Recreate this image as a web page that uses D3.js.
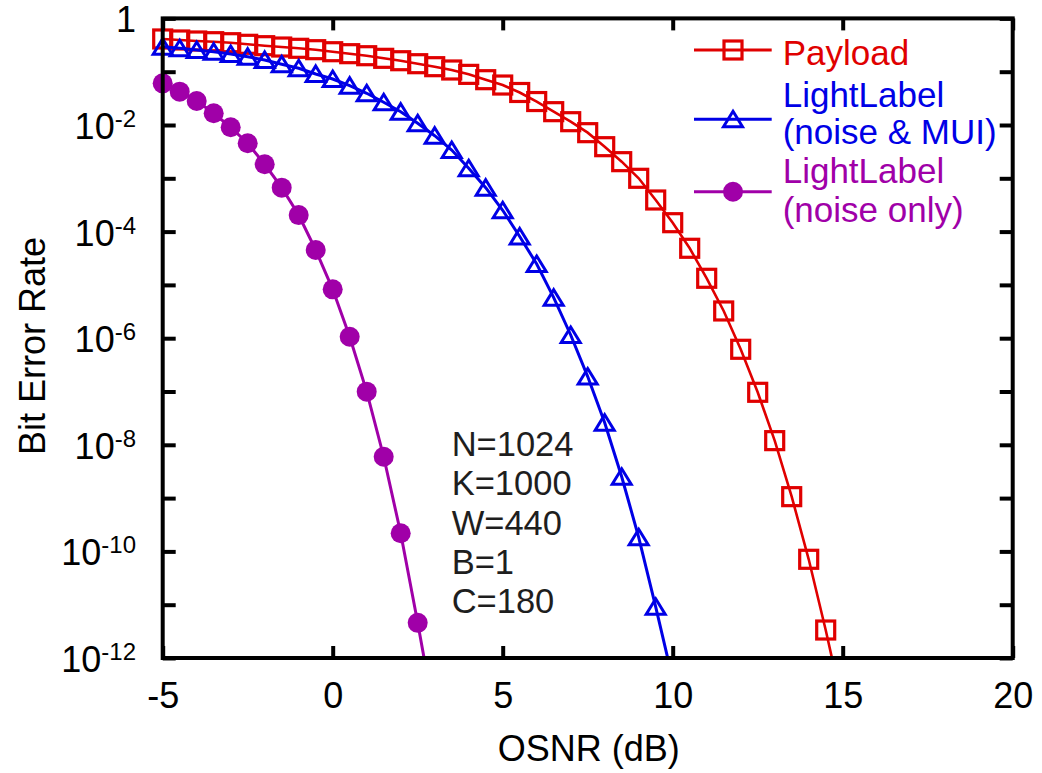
<html>
<head>
<meta charset="utf-8">
<script src="https://d3js.org/d3.v7.min.js"></script>
<style>
body { margin: 0; background: #fff; }
svg { font-family: "Liberation Sans", Arial, sans-serif; }
</style>
</head>
<body>
<svg width="1042" height="773"></svg>
<script>

// OSNR (dB) values and log10(BER).
// the last value of each series is just past the bottom so the line runs out of the frame
var payloadX = [-5, -4.5, -4, -3.5, -3, -2.5, -2, -1.5, -1, -0.5, 0, 0.5, 1, 1.5, 2, 2.5, 3, 3.5, 4, 4.5,
                5, 5.5, 6, 6.5, 7, 7.5, 8, 8.5, 9, 9.5, 10, 10.5, 11, 11.5, 12, 12.5, 13, 13.5, 14, 14.5, 15];
var payloadLog = [-0.386, -0.405, -0.424, -0.437, -0.456, -0.486, -0.512, -0.537, -0.561, -0.587,
                  -0.625, -0.662, -0.700, -0.749, -0.794, -0.850, -0.906, -0.968, -1.05, -1.15,
                  -1.25, -1.39, -1.56, -1.75, -1.938, -2.144, -2.407, -2.688, -3.0, -3.407,
                  -3.833, -4.313, -4.876, -5.489, -6.208, -7.015, -7.922, -8.973, -10.148, -11.475, -12.9];

var muiX = [-5, -4.5, -4, -3.5, -3, -2.5, -2, -1.5, -1, -0.5, 0, 0.5, 1, 1.5, 2, 2.5, 3, 3.5, 4, 4.5,
            5, 5.5, 6, 6.5, 7, 7.5, 8, 8.5, 9, 9.5, 10];
var muiLog = [-0.531, -0.561, -0.593, -0.625, -0.668, -0.719, -0.780, -0.861, -0.936, -1.043,
              -1.137, -1.263, -1.405, -1.574, -1.750, -1.968, -2.201, -2.469, -2.812, -3.176,
              -3.60, -4.091, -4.608, -5.24, -5.94, -6.72, -7.585, -8.6, -9.735, -11.04, -12.4];

var noiseX = [-5, -4.5, -4, -3.5, -3, -2.5, -2, -1.5, -1, -0.5, 0, 0.5, 1, 1.5, 2, 2.5, 3];
var noiseLog = [-1.218, -1.375, -1.55, -1.78, -2.043, -2.343, -2.737, -3.176, -3.69, -4.345,
                -5.083, -5.972, -7.003, -8.224, -9.66, -11.34, -13.1];

var xTicks = [-5, 0, 5, 10, 15, 20];
var yTicks = [1, 1e-1, 1e-2, 1e-3, 1e-4, 1e-5, 1e-6, 1e-7, 1e-8, 1e-9, 1e-10, 1e-11, 1e-12];
var yLabelExp = [0, -2, -4, -6, -8, -10, -12];
var noteLines = ["N=1024", "K=1000", "W=440", "B=1", "C=180"];
var legendNames = [["Payload"], ["LightLabel", "(noise & MUI)"], ["LightLabel", "(noise only)"]];

var red = "#e00000", blue = "#0000e6", purple = "#a000a8";

var svg = d3.select("svg");
var plotL = 162.7, plotR = 1012.7, plotT = 18.4, plotB = 658;

var x = d3.scaleLinear().domain([-5, 20]).range([plotL, plotR]);
var y = d3.scaleLog().domain([1e-12, 1]).range([plotB, plotT]);

svg.append("clipPath").attr("id", "plot")
  .append("rect").attr("x", plotL).attr("y", plotT).attr("width", plotR - plotL).attr("height", plotB - plotT);

function pts(xs, logs) {
  return xs.map(function (v, i) { return { x: v, ber: Math.pow(10, logs[i]) }; });
}
var series = [
  { data: pts(payloadX, payloadLog), color: red, width: 2.6, marker: "square" },
  { data: pts(muiX, muiLog), color: blue, width: 3, marker: "triangle" },
  { data: pts(noiseX, noiseLog), color: purple, width: 3, marker: "circle" }
];

var line = d3.line()
  .x(function (d) { return x(d.x); })
  .y(function (d) { return y(d.ber); });

function drawMarker(g, type, color, cx, cy) {
  if (type == "square") {
    g.append("rect").attr("x", cx - 9).attr("y", cy - 9).attr("width", 18).attr("height", 18)
      .attr("fill", "none").attr("stroke", color).attr("stroke-width", 3.2);
  } else if (type == "triangle") {
    g.append("path").attr("d", "M" + cx + "," + (cy - 8) + "L" + (cx + 9.5) + "," + (cy + 7.5) + "L" + (cx - 9.5) + "," + (cy + 7.5) + "Z")
      .attr("fill", "none").attr("stroke", color).attr("stroke-width", 3);
  } else {
    g.append("circle").attr("cx", cx).attr("cy", cy).attr("r", 10).attr("fill", color);
  }
}

series.forEach(function (s) {
  svg.append("path")
    .attr("d", line(s.data))
    .attr("fill", "none")
    .attr("stroke", s.color)
    .attr("stroke-width", s.width)
    .attr("clip-path", "url(#plot)");
  var g = svg.append("g");
  s.data.forEach(function (d) {
    if (d.ber >= 1e-12) drawMarker(g, s.marker, s.color, x(d.x), y(d.ber));
  });
});

// frame and ticks (inside)
svg.append("rect")
  .attr("x", plotL).attr("y", plotT).attr("width", plotR - plotL).attr("height", plotB - plotT)
  .attr("fill", "none").attr("stroke", "#000").attr("stroke-width", 4);

function styleTicks(g) {
  g.select(".domain").remove();
  g.selectAll(".tick line").attr("stroke", "#000").attr("stroke-width", 4);
}

var xAxis = d3.axisBottom(x).tickValues(xTicks).tickSize(-12).tickSizeOuter(0).tickPadding(24.4)
  .tickFormat(function (d) { return String(d); });
svg.append("g").attr("transform", "translate(0," + plotB + ")").call(xAxis)
  .call(styleTicks)
  .selectAll("text").attr("font-size", 36).attr("fill", "#000").attr("font-family", "Liberation Sans, Arial, sans-serif");

svg.append("g").attr("transform", "translate(0," + plotT + ")")
  .call(d3.axisTop(x).tickValues(xTicks).tickSize(-12).tickFormat(""))
  .call(styleTicks);

svg.append("g").attr("transform", "translate(" + plotL + ",0)")
  .call(d3.axisLeft(y).tickValues(yTicks).tickSize(-13).tickFormat(""))
  .call(styleTicks);

svg.append("g").attr("transform", "translate(" + plotR + ",0)")
  .call(d3.axisRight(y).tickValues(yTicks).tickSize(-13).tickFormat(""))
  .call(styleTicks);

// y tick labels with superscripts
var yl = svg.append("g").attr("text-anchor", "end").attr("fill", "#000");
yLabelExp.forEach(function (e) {
  var t = yl.append("text")
    .attr("x", 136)
    .attr("y", y(Math.pow(10, e)) + 14)
    .attr("font-size", 36);
  if (e == 0) {
    t.text("1");
  } else {
    t.append("tspan").text("10");
    t.append("tspan").attr("font-size", 24).attr("dy", -12).text(String(e));
  }
});

// axis titles
svg.append("text")
  .attr("x", (plotL + plotR) / 2 + 1).attr("y", 761)
  .attr("text-anchor", "middle").attr("font-size", 36)
  .text("OSNR (dB)");

svg.append("text")
  .attr("transform", "translate(45,346) rotate(-90)")
  .attr("text-anchor", "middle").attr("font-size", 36)
  .text("Bit Error Rate");

// parameters
svg.append("g").selectAll("text").data(noteLines).enter().append("text")
  .attr("x", 451.7)
  .attr("y", function (d, i) { return 456 + i * 39.3; })
  .attr("font-size", 34.5)
  .attr("fill", "#1e1e1e")
  .text(function (d) { return d; });

// legend
var legendLineY = [50, 119.3, 191.7];
var legendTextY = [[65], [106.7, 144.3], [183.3, 221.7]];
var lg = svg.append("g");
series.forEach(function (s, i) {
  lg.append("line")
    .attr("x1", 694).attr("x2", 771.7)
    .attr("y1", legendLineY[i]).attr("y2", legendLineY[i])
    .attr("stroke", s.color).attr("stroke-width", 3);
  drawMarker(lg, s.marker, s.color, 733, legendLineY[i]);
  legendNames[i].forEach(function (name, j) {
    lg.append("text")
      .attr("x", 782.7).attr("y", legendTextY[i][j])
      .attr("font-size", 35).attr("fill", s.color)
      .text(name);
  });
});

</script>
</body>
</html>
